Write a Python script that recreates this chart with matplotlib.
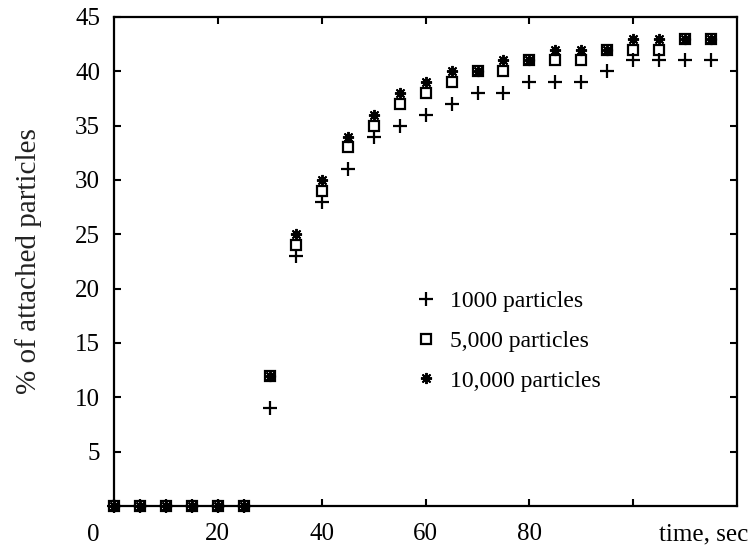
import matplotlib
matplotlib.use("Agg")
import matplotlib.pyplot as plt

plt.rcParams['font.family'] = ['Liberation Serif', 'DejaVu Serif']

# time, sec
time_sec = [0, 5, 10, 15, 20, 25, 30, 35, 40, 45, 50, 55, 60, 65, 70, 75,
            80, 85, 90, 95, 100, 105, 110, 115]

# % of attached particles
p1000 = [0, 0, 0, 0, 0, 0, 9, 23, 28, 31, 34, 35, 36, 37, 38, 38,
         39, 39, 39, 40, 41, 41, 41, 41]
p5000 = [0, 0, 0, 0, 0, 0, 12, 24, 29, 33, 35, 37, 38, 39, 40, 40,
         41, 41, 41, 42, 42, 42, 43, 43]
p10000 = [0, 0, 0, 0, 0, 0, 12, 25, 30, 34, 36, 38, 39, 40, 40, 41,
          41, 42, 42, 42, 43, 43, 43, 43]

labels = ["1000 particles", "5,000 particles", "10,000 particles"]

x_ticks = [20, 40, 60, 80, 100]
x_ticklabels = ["20", "40", "60", "80", ""]
y_ticks = [5, 10, 15, 20, 25, 30, 35, 40, 45]

fig = plt.figure(figsize=(7.49, 5.51), dpi=100)
ax = fig.add_axes([0.1522, 0.0817, 0.832, 0.8875])

# + , open square, 8-arm asterisk (gnuplot style)
ax.plot(time_sec, p1000, linestyle='none', marker='+', markersize=10,
        markeredgewidth=1.6, color='black', label=labels[0], clip_on=False)
ax.plot(time_sec, p5000, linestyle='none', marker='s', markersize=7.5,
        markeredgewidth=1.6, markerfacecolor='none', color='black',
        label=labels[1], clip_on=False)
ax.plot(time_sec, p10000, linestyle='none', marker=(8, 2, 0), markersize=8,
        markeredgewidth=1.4, color='black', label=labels[2], clip_on=False)

ax.set_xlim(0, 120)
ax.set_ylim(0, 45)
ax.set_xticks(x_ticks)
ax.set_xticklabels(x_ticklabels)
ax.set_yticks(y_ticks)

for s in ax.spines.values():
    s.set_linewidth(1.6)

ax.tick_params(axis='both', direction='in', length=5, width=1.5,
               labelsize=18, top=True, right=True)
ax.tick_params(axis='x', pad=12)
ax.tick_params(axis='y', pad=10)

ax.text(-0.034, -0.036, "0", transform=ax.transAxes, ha='center', va='top',
        fontsize=18)
ax.text(1.018, -0.036, "time, sec", transform=ax.transAxes, ha='right',
        va='top', fontsize=18)

ax.set_ylabel("% of attached particles", fontsize=21, labelpad=24,
              color='#222222')

ax.legend(loc='upper left', bbox_to_anchor=(0.459, 0.474), frameon=False,
          fontsize=17, handlelength=0.8, handletextpad=0.6, labelspacing=0.77,
          borderpad=0.2)

fig.savefig("out.png", dpi=100)
